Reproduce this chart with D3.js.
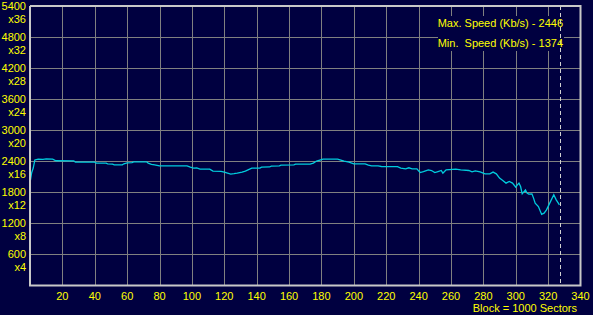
<!DOCTYPE html>
<html>
<head>
<meta charset="utf-8">
<script src="https://cdnjs.cloudflare.com/ajax/libs/d3/7.8.5/d3.min.js"></script>
<style>
  body { margin: 0; background: #000040; }
  svg { display: block; }
  text { font-family: "Liberation Sans", Arial, sans-serif; fill: #ffff00; }
</style>
</head>
<body>
<div id="chart"></div>
<script>
var outerWidth = 593,
    outerHeight = 315,
    margin = { top: 6, right: 12.5, bottom: 29.5, left: 30 },
    width = outerWidth - margin.left - margin.right,
    height = outerHeight - margin.top - margin.bottom;

// block number (x 1000 sectors) and read speed (Kb/s)
var blocks = [0, 1, 2, 3, 5, 8, 10, 14, 16, 27, 28, 40, 41, 47, 48, 51, 52, 57, 58, 60,
    63, 64, 72, 73, 75, 77, 80, 97, 99, 101, 103, 105, 111, 113, 118, 120, 122, 124, 126, 128,
    131, 133, 135, 137, 142, 143, 148, 149, 154, 155, 163, 164, 173, 175, 177, 179, 181, 190, 192, 194,
    197, 200, 207, 209, 211, 215, 217, 227, 229, 232, 234, 236, 239, 240, 241, 243, 246, 248, 250, 252,
    254, 255, 256, 257, 263, 266, 271, 273, 275, 278, 281, 284, 286, 288, 290, 292, 294, 296, 298, 300,
    301, 302, 303, 304, 306, 307, 308, 310, 311, 312, 314, 316, 317.5, 319, 321, 323.5, 325, 327];
var speeds = [1980, 2177, 2270, 2425, 2440, 2435, 2446, 2440, 2410, 2409, 2384, 2384, 2365, 2365, 2351, 2345, 2332, 2332, 2351, 2370,
    2375, 2390, 2390, 2365, 2340, 2332, 2312, 2312, 2287, 2268, 2270, 2248, 2248, 2210, 2205, 2190, 2171, 2152, 2160, 2171,
    2190, 2210, 2240, 2268, 2268, 2287, 2290, 2306, 2310, 2326, 2330, 2345, 2345, 2365, 2404, 2423, 2442, 2442, 2423, 2404,
    2384, 2351, 2351, 2326, 2312, 2310, 2299, 2295, 2268, 2255, 2274, 2255, 2255, 2216, 2183, 2202, 2235, 2222, 2183, 2202,
    2222, 2171, 2202, 2235, 2249, 2235, 2222, 2196, 2216, 2196, 2158, 2158, 2191, 2158, 2075, 2028, 1978, 2009, 1978, 1901,
    1945, 1978, 1912, 1771, 1848, 1784, 1765, 1771, 1688, 1591, 1525, 1374, 1397, 1461, 1591, 1752, 1655, 1558];

var xTicks = [20, 40, 60, 80, 100, 120, 140, 160, 180, 200, 220, 240, 260, 280, 300, 320, 340];
var yTicks = [600, 1200, 1800, 2400, 3000, 3600, 4200, 4800, 5400];
var yFactors = ["x4", "x8", "x12", "x16", "x20", "x24", "x28", "x32", "x36"];
var endBlock = 327.5;
var legendLines = ["Max. Speed (Kb/s) - 2446", "Min.\u00a0 Speed (Kb/s) - 1374"];

var x = d3.scaleLinear().domain([0, 340]).range([0, width]);
var y = d3.scaleLinear().domain([0, 5400]).range([height, 0]);

var svg = d3.select("#chart")
    .append("svg")
    .attr("width", outerWidth)
    .attr("height", outerHeight)
    .style("background", "#000040")
    .append("g")
    .attr("transform", "translate(" + margin.left + "," + margin.top + ")");

// grid
svg.selectAll(".vgrid")
    .data(xTicks.slice(0, -1))
    .enter().append("line")
    .attr("x1", function(d) { return Math.round(x(d)) + 0.5; })
    .attr("x2", function(d) { return Math.round(x(d)) + 0.5; })
    .attr("y1", 0)
    .attr("y2", height)
    .style("stroke", "#808080");

svg.selectAll(".hgrid")
    .data(yTicks.slice(0, -1))
    .enter().append("line")
    .attr("x1", 0)
    .attr("x2", width)
    .attr("y1", function(d) { return Math.round(y(d)) + 0.5; })
    .attr("y2", function(d) { return Math.round(y(d)) + 0.5; })
    .style("stroke", "#808080");

// legend background hides the grid
svg.append("rect")
    .attr("x", 438 - margin.left)
    .attr("y", 16 - margin.top)
    .attr("width", 126)
    .attr("height", 35)
    .style("fill", "#000040");

// end of disc marker
svg.append("line")
    .attr("x1", Math.round(x(endBlock)) + 0.5)
    .attr("x2", Math.round(x(endBlock)) + 0.5)
    .attr("y1", 0)
    .attr("y2", height)
    .style("stroke", "#d0d0d0")
    .style("stroke-dasharray", "4,3");

// speed curve
var line = d3.line()
    .x(function(d) { return x(d[0]); })
    .y(function(d) { return y(d[1]); });

svg.append("path")
    .datum(d3.zip(blocks, speeds))
    .attr("d", line)
    .style("fill", "none")
    .style("stroke", "#00ccdd")
    .style("stroke-width", 1.3);

// frame
svg.append("path")
    .attr("d", "M0,0V" + height + "H" + width + "V0H0")
    .style("fill", "none")
    .style("stroke", "#c8c8c8")
    .style("stroke-width", 2);

// y labels
var yl = svg.selectAll(".ylab")
    .data(yTicks)
    .enter().append("g")
    .attr("transform", function(d) { return "translate(-4," + y(d) + ")"; });

yl.append("text")
    .attr("y", 4)
    .style("text-anchor", "end")
    .style("font-size", "11px")
    .text(function(d) { return d; });

yl.append("text")
    .attr("y", 16.6)
    .style("text-anchor", "end")
    .style("font-size", "11px")
    .text(function(d, i) { return yFactors[i]; });

// x labels
svg.selectAll(".xlab")
    .data(xTicks)
    .enter().append("text")
    .attr("x", function(d) { return x(d); })
    .attr("y", height + 14.5)
    .style("text-anchor", "middle")
    .style("font-size", "11px")
    .text(function(d) { return d; });

svg.append("text")
    .attr("x", 577 - margin.left)
    .attr("y", 312 - margin.top)
    .style("text-anchor", "end")
    .style("font-size", "11px")
    .text("Block = 1000 Sectors");

svg.selectAll(".legend")
    .data(legendLines)
    .enter().append("text")
    .attr("x", 563 - margin.left)
    .attr("y", function(d, i) { return 27 - margin.top + i * 20; })
    .style("text-anchor", "end")
    .style("font-size", "11px")
    .text(function(d) { return d; });
</script>
</body>
</html>
